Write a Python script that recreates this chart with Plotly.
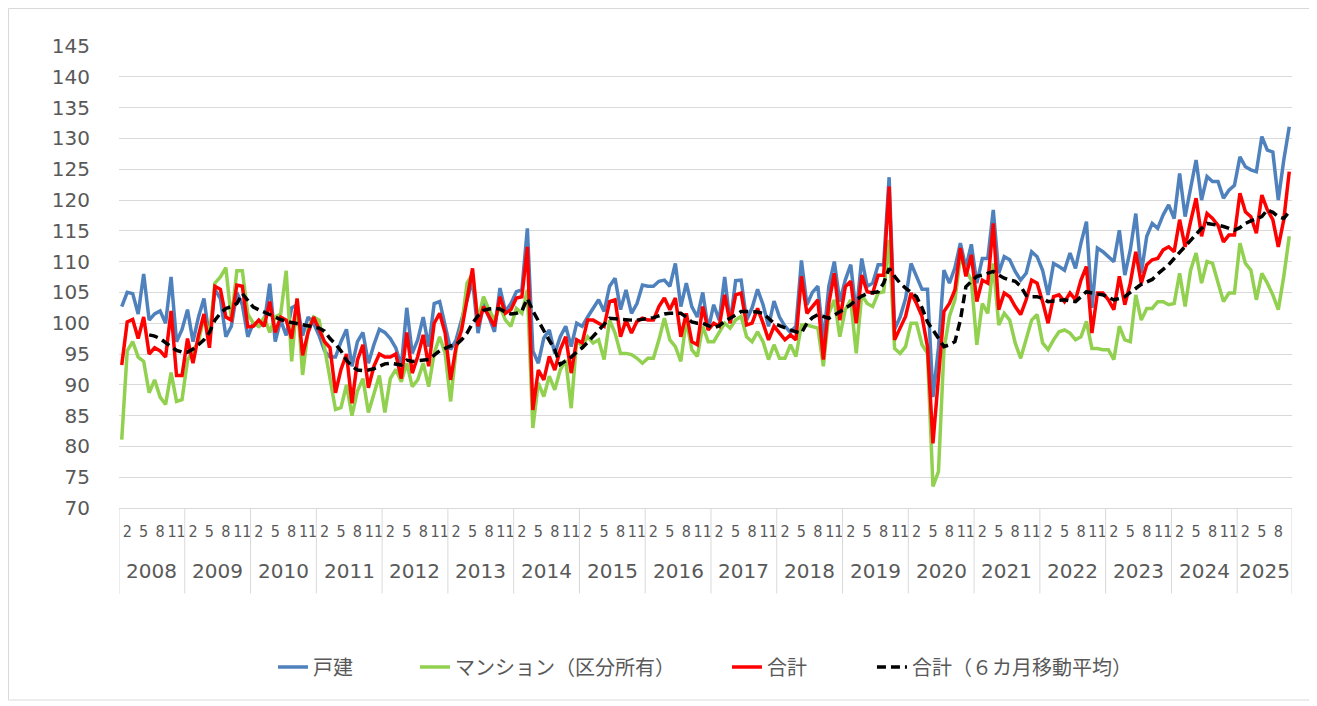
import plotly.graph_objects as go

# ---------------- data (monthly, Jan 2008 - Oct 2025) ----------------
years = [str(y) for y in range(2008, 2026)]
month_labels = [2, 5, 8, 11]

kodate = [
    102.7, 105.0, 104.8, 101.5, 108.0, 100.5, 101.5, 102.0, 100.0, 107.5, 97.0, 99.0,
    102.2, 97.0, 101.0, 104.0, 97.5, 105.5, 104.0, 97.8, 99.5, 105.0, 103.0, 97.8,
    100.0, 99.5, 100.0, 106.4, 97.0, 100.5, 98.0, 102.5, 103.0, 98.0, 101.0, 100.0,
    98.0, 95.5, 94.5, 94.5, 97.0, 99.0, 93.0, 97.0, 98.5, 93.5, 96.5, 99.0,
    98.5, 97.5, 96.0, 93.0, 102.5, 95.1, 97.3, 101.0, 96.2, 103.2, 103.5, 99.5,
    95.7, 97.3, 100.5, 103.5, 107.0, 98.4, 103.2, 101.0, 98.6, 105.7, 101.9, 103.2,
    105.1, 105.4, 115.4, 95.5, 93.5, 97.6, 98.9, 95.1, 97.8, 99.5, 96.2, 100.0,
    99.5, 101.0, 102.4, 103.8, 101.9, 106.0, 107.3, 102.2, 105.4, 101.6, 103.2, 106.2,
    106.0, 106.0, 106.8, 107.0, 106.0, 109.7, 102.7, 106.5, 102.7, 101.0, 105.0, 99.0,
    103.0, 100.5, 107.5, 100.0, 106.9, 107.0, 100.5, 102.5, 105.5, 103.0, 99.5, 103.6,
    101.0, 99.5, 98.5, 99.5, 110.2, 103.0, 105.0, 106.0, 97.0, 106.0, 110.0, 103.5,
    107.0, 109.5, 101.5, 110.5, 106.0, 106.5, 109.5, 109.5, 123.7, 99.0, 101.0, 104.0,
    109.7, 107.5, 105.5, 105.5, 88.0, 96.0, 108.6, 106.5, 109.0, 113.0, 109.0, 112.8,
    106.5, 110.5, 110.5, 118.4, 108.1, 110.8, 110.3, 108.4, 107.0, 108.1, 111.6, 110.8,
    108.6, 104.6, 109.7, 109.2, 108.6, 111.4, 108.9, 113.0, 116.5, 102.5, 112.2, 111.6,
    110.8, 110.0, 115.1, 107.8, 111.9, 117.8, 108.1, 114.1, 116.2, 115.4, 117.6, 119.2,
    117.0, 124.3, 117.3, 122.2, 126.5, 120.0, 123.8, 123.0, 123.0, 120.3, 121.6, 122.4,
    127.0, 125.4, 124.9, 124.6, 130.3, 128.1, 127.8, 120.0, 126.5, 131.9,
]

mansion = [
    81.1, 95.5, 97.0, 94.5, 93.8, 88.7, 90.8, 88.0, 86.8, 92.0, 87.3, 87.6,
    94.0, 95.5, 97.0, 101.0, 98.0, 106.5, 107.5, 109.0, 100.5, 108.5, 108.5, 101.5,
    100.0, 99.5, 101.0, 98.5, 101.0, 101.5, 108.5, 93.8, 104.0, 91.6, 99.0, 101.0,
    100.5, 96.0, 91.3, 86.0, 86.3, 90.0, 85.0, 89.0, 91.0, 85.5, 88.5, 91.5,
    85.5, 91.0, 92.5, 90.5, 93.5, 89.7, 90.8, 93.5, 89.7, 95.1, 97.8, 95.1,
    87.3, 95.7, 99.5, 106.5, 108.0, 100.5, 104.3, 102.2, 100.5, 102.7, 100.5, 99.5,
    102.4, 101.6, 105.4, 83.0, 90.3, 88.1, 91.4, 89.2, 92.4, 94.0, 86.2, 97.3,
    96.2, 97.8, 96.8, 97.3, 94.1, 100.5, 98.4, 95.1, 95.1, 94.9, 94.3, 93.5,
    94.3, 94.3, 97.3, 100.8, 97.3, 96.2, 93.8, 100.5, 95.7, 94.6, 99.5, 97.0,
    97.0, 98.6, 100.0, 99.2, 100.5, 101.1, 97.8, 97.0, 98.6, 97.0, 94.1, 96.5,
    94.3, 94.3, 96.5, 94.6, 99.7, 99.7, 99.5, 99.2, 93.0, 101.6, 103.8, 97.8,
    102.2, 103.8, 95.1, 104.6, 103.2, 102.7, 104.9, 105.1, 113.5, 95.9, 95.1, 96.2,
    100.0, 100.0, 96.5, 95.1, 73.5, 75.9, 95.7, 101.1, 103.8, 110.8, 108.6, 107.0,
    96.5, 103.2, 101.6, 109.7, 99.7, 101.6, 100.5, 96.8, 94.3, 97.3, 100.5, 101.4,
    96.8, 95.7, 97.3, 98.6, 98.9, 98.4, 97.3, 97.8, 100.3, 95.9, 95.9, 95.7,
    95.7, 94.1, 99.5, 97.3, 97.0, 104.6, 100.5, 102.4, 102.4, 103.5, 103.5, 103.0,
    103.2, 108.1, 102.7, 108.6, 111.4, 106.5, 110.0, 109.7, 106.5, 103.5, 104.9, 104.9,
    113.0, 109.7, 108.6, 103.8, 108.1, 106.5, 104.6, 102.2, 107.6, 114.1,
]

goukei = [
    93.2, 100.2, 100.6, 97.5, 101.0, 95.0, 96.0, 95.5, 94.5, 102.0, 91.5, 91.5,
    97.5, 93.5, 98.0, 101.5, 96.0, 106.0, 105.5, 101.0, 100.5, 106.2, 106.0, 99.4,
    99.5, 100.5, 99.5, 103.5, 98.5, 101.0, 100.5, 97.5, 104.0, 94.8, 98.5, 101.0,
    99.0, 97.0, 96.0, 88.7, 92.5, 95.0, 87.0, 94.0, 96.5, 89.5, 93.0, 95.0,
    94.5, 94.5, 95.0, 91.0, 98.5, 91.9, 94.6, 98.1, 93.0, 100.0, 101.6, 98.4,
    90.8, 96.2, 98.9, 103.8, 108.9, 99.5, 102.7, 101.1, 99.5, 104.3, 101.6, 102.2,
    104.1, 104.3, 112.4, 85.9, 92.4, 90.8, 94.6, 92.4, 95.7, 97.8, 91.9, 97.3,
    96.8, 100.5, 100.5, 100.0, 99.5, 103.5, 103.8, 97.8, 100.5, 98.4, 100.3, 100.8,
    100.5, 100.5, 102.7, 104.1, 102.2, 104.1, 97.8, 101.6, 97.0, 96.5, 102.7, 98.9,
    100.0, 99.5, 104.6, 100.0, 104.6, 104.9, 99.7, 100.0, 102.4, 100.0, 97.3, 99.5,
    98.4, 97.3, 98.1, 97.3, 107.6, 101.6, 102.7, 103.8, 94.1, 103.2, 108.1, 100.5,
    105.9, 106.8, 100.0, 107.8, 105.1, 104.9, 107.8, 107.8, 122.2, 97.3, 99.2, 101.1,
    104.9, 103.2, 101.1, 96.2, 80.5, 91.9, 101.9, 103.2, 105.4, 112.2, 107.6, 111.1,
    103.5, 107.0, 106.5, 116.2, 102.2, 104.9, 104.3, 102.7, 101.4, 103.8, 107.0, 106.5,
    103.5, 100.0, 104.3, 104.6, 103.5, 104.9, 103.8, 107.0, 109.2, 98.4, 104.9, 104.9,
    103.8, 102.2, 107.6, 103.0, 106.5, 111.6, 106.5, 109.5, 110.3, 110.5, 111.9, 112.4,
    111.6, 116.8, 112.4, 116.5, 120.3, 114.1, 117.8, 117.0, 115.9, 113.2, 114.3, 114.3,
    121.1, 118.1, 117.3, 114.6, 120.8, 118.4, 116.8, 112.4, 116.8, 124.6,
]

goukei_ma = [
    None, None, None, None, None, 98.1, 97.9, 97.5, 96.8, 96.2, 95.6, 95.3,
    95.3, 95.8, 96.5, 97.3, 98.5, 100.5, 101.6, 102.4, 102.7, 103.2, 104.8, 103.8,
    102.6, 102.2, 101.8, 101.4, 100.9, 100.6, 100.3, 100.1, 99.9, 99.7, 99.5, 99.4,
    99.2, 98.7, 97.5, 96.6, 95.5, 94.0, 93.0, 92.4, 92.3, 92.4, 92.6, 93.0,
    93.4, 93.5, 93.3, 93.2, 94.0, 93.8, 93.9, 94.0, 94.1, 94.8, 95.5, 95.9,
    96.3, 96.5, 97.3, 98.4, 100.0, 101.2, 102.1, 102.3, 102.4, 102.3, 101.8, 101.5,
    101.6, 102.0, 104.0, 102.0, 100.3, 98.8, 97.2, 95.7, 93.3, 93.9, 94.5, 95.3,
    96.0, 96.9, 97.8, 98.8, 99.8, 100.8, 100.7, 100.6, 100.5, 100.5, 100.5, 100.6,
    100.7, 100.9, 101.2, 101.5, 101.6, 101.6, 101.6, 101.0, 100.2, 100.0, 100.0, 99.6,
    99.2, 99.6, 100.3, 100.8, 101.4, 101.9, 101.9, 101.9, 101.8, 101.6, 100.8, 100.0,
    99.6, 99.2, 98.9, 98.6, 98.4, 100.0, 100.9, 101.4, 101.1, 100.8, 101.3, 101.9,
    102.5, 103.0, 103.8, 104.4, 104.8, 105.0, 105.1, 106.5, 108.9, 107.6, 106.5, 105.7,
    105.0, 104.3, 102.5, 100.2, 98.9, 97.5, 96.2, 96.5, 97.0, 100.5, 105.9, 106.8,
    107.6, 107.8, 108.1, 108.4, 107.8, 107.3, 107.0, 106.8, 106.0, 104.5, 104.3, 104.3,
    104.0, 103.5, 103.6, 103.7, 103.8, 103.6, 103.5, 104.3, 105.1, 104.9, 104.7, 104.6,
    104.2, 103.8, 104.0, 104.3, 105.0, 105.7, 106.3, 106.7, 107.1, 108.0, 108.8, 109.5,
    110.5, 111.5, 112.6, 113.6, 114.6, 115.4, 116.2, 116.1, 115.9, 115.7, 115.4, 115.1,
    115.5, 116.2, 116.6, 117.0, 117.3, 118.4, 118.0, 117.3, 117.0, 118.1,
]

series_names = ["戸建", "マンション（区分所有）", "合計", "合計（６カ月移動平均）"]

# ---------------- figure ----------------
n = len(kodate)
x = list(range(n))

GRID = "#d9d9d9"
TXT = "#595959"
LEG_FONT = dict(size=20, color=TXT, family="Noto Sans CJK JP")

fig = go.Figure()
fig.add_trace(go.Scatter(x=x, y=kodate, name=series_names[0], mode="lines",
                         line=dict(color="#4F81BD", width=3.5), legend="legend"))
fig.add_trace(go.Scatter(x=x, y=mansion, name=series_names[1], mode="lines",
                         line=dict(color="#92D050", width=3.5), legend="legend2"))
fig.add_trace(go.Scatter(x=x, y=goukei, name=series_names[2], mode="lines",
                         line=dict(color="#FF0000", width=3.5), legend="legend3"))
fig.add_trace(go.Scatter(x=x, y=goukei_ma, name=series_names[3], mode="lines",
                         line=dict(color="#000000", width=3.5, dash="9px,5px"),
                         legend="legend4"))

tickvals, ticktext = [], []
for yi, _ in enumerate(years):
    for m in month_labels:
        idx = yi * 12 + m - 1
        if idx < n:
            tickvals.append(idx)
            ticktext.append(str(m))

shapes = []
annotations = []
for yi, yr in enumerate(years):
    left = yi * 12 - 0.5
    right = min((yi + 1) * 12, n) - 0.5
    shapes.append(dict(type="line", xref="x", yref="paper", x0=left, x1=left,
                       y0=0, y1=-0.185, line=dict(color=GRID, width=1)))
    annotations.append(dict(x=(left + right) / 2, y=-0.136, xref="x", yref="paper",
                            text=yr, showarrow=False, yanchor="middle",
                            font=dict(size=20, color=TXT, family="DejaVu Sans")))
shapes.append(dict(type="line", xref="x", yref="paper", x0=n - 0.5, x1=n - 0.5,
                   y0=0, y1=-0.185, line=dict(color=GRID, width=1)))

# chart border
shapes.append(dict(type="rect", xref="paper", yref="paper",
                   x0=-0.0942, x1=1.0153, y0=-0.4156, y1=1.0812,
                   line=dict(color=GRID, width=1)))

leg_y = -0.344
fig.update_layout(
    width=1317, height=706,
    margin=dict(l=111, r=33, t=38, b=206),
    plot_bgcolor="white", paper_bgcolor="white",
    font=dict(family="DejaVu Sans, Noto Sans CJK JP", color=TXT),
    showlegend=True,
    legend=dict(orientation="h", x=0.1313, xanchor="left", y=leg_y, yanchor="middle",
                font=LEG_FONT, bgcolor="rgba(0,0,0,0)"),
    legend2=dict(orientation="h", x=0.2523, xanchor="left", y=leg_y, yanchor="middle",
                 font=LEG_FONT, bgcolor="rgba(0,0,0,0)"),
    legend3=dict(orientation="h", x=0.5183, xanchor="left", y=leg_y, yanchor="middle",
                 font=LEG_FONT, bgcolor="rgba(0,0,0,0)"),
    legend4=dict(orientation="h", x=0.6419, xanchor="left", y=leg_y, yanchor="middle",
                 font=LEG_FONT, bgcolor="rgba(0,0,0,0)"),
    shapes=shapes,
    annotations=annotations,
    xaxis=dict(range=[-0.5, n - 0.5], tickmode="array", tickvals=tickvals,
               ticktext=ticktext, showgrid=False, zeroline=False,
               showline=True, linecolor=GRID, linewidth=1,
               tickfont=dict(size=16, color=TXT, family="DejaVu Sans Condensed, DejaVu Sans"),
               ticks="", ticklabelstandoff=9, tickangle=0),
    yaxis=dict(range=[70, 145], dtick=5, tick0=70, showgrid=True,
               gridcolor=GRID, gridwidth=1.3, zeroline=False, showline=False,
               tickfont=dict(size=20, color=TXT, family="DejaVu Sans"),
               ticks="", ticklabelstandoff=28),
)

fig.write_html("out.html")
